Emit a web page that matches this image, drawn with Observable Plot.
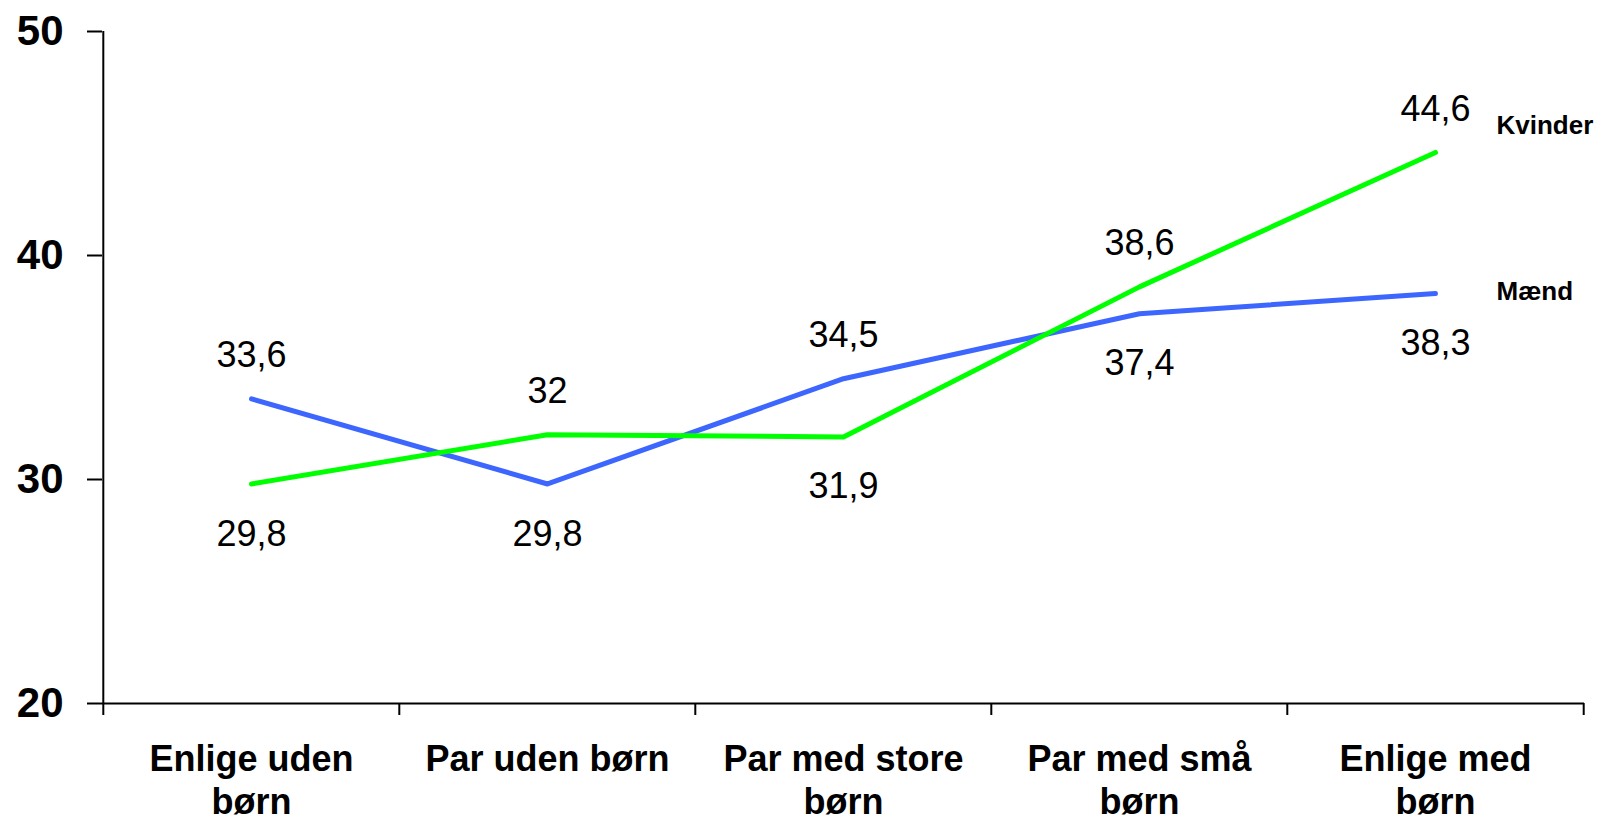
<!DOCTYPE html>
<html><head><meta charset="utf-8">
<script src="https://cdn.jsdelivr.net/npm/d3@7"></script>
<script src="https://cdn.jsdelivr.net/npm/@observablehq/plot@0.6"></script>
<style>html,body{margin:0;padding:0;background:#fff} svg{display:block}</style>
</head><body><div id="chart"></div>
<script>
const categories = ["Enlige uden børn", "Par uden børn", "Par med store børn", "Par med små børn", "Enlige med børn"];
const tickLabels = ["Enlige uden\nbørn", "Par uden børn", "Par med store\nbørn", "Par med små\nbørn", "Enlige med\nbørn"];
const maend = [33.6, 29.8, 34.5, 37.4, 38.3];
const kvinder = [29.8, 32, 31.9, 38.6, 44.6];
const seriesNames = ["Mænd", "Kvinder"];
const seriesColors = ["#3D66FF", "#00FF00"];
const yTicks = [20, 30, 40, 50];

const W = 1598, H = 817, ML = 102, MR = 14, MT = 31, MB = 114;
const bw = (W - ML - MR) / categories.length;
const fmt = v => String(v).replace(".", ",");

const rows = [];
categories.forEach((c, i) => {
  rows.push({cat: c, series: "Mænd", value: maend[i], other: kvinder[i]});
  rows.push({cat: c, series: "Kvinder", value: kvinder[i], other: maend[i]});
});
const above = rows.filter(d => d.value >= d.other);
const below = rows.filter(d => d.value < d.other);
const last = categories[categories.length - 1];
const endK = rows.filter(d => d.cat === last && d.series === "Kvinder");
const endM = rows.filter(d => d.cat === last && d.series === "Mænd");
const tickDrop = 12 / ((H - MT - MB) / (yTicks[yTicks.length - 1] - yTicks[0]));

const chart = Plot.plot({
  width: W, height: H,
  marginLeft: ML, marginRight: MR, marginTop: MT, marginBottom: MB,
  style: {fontFamily: "'Liberation Sans', Arial, sans-serif", background: "#fff", color: "#000"},
  x: {type: "band", domain: categories, padding: 0},
  y: {domain: [yTicks[0], yTicks[yTicks.length - 1]]},
  color: {domain: seriesNames, range: seriesColors},
  marks: [
    Plot.axisY({ticks: yTicks, tickSize: 15, tickPadding: 24, fontSize: 42, fontWeight: "bold", strokeWidth: 2, label: null}),
    Plot.axisX({tickSize: 0, tickPadding: 37, tickFormat: d => tickLabels[categories.indexOf(d)], fontSize: 36, fontWeight: "bold", lineHeight: 1.2, label: null}),
    Plot.ruleY([yTicks[0]], {stroke: "#000", strokeWidth: 2}),
    Plot.ruleX([categories[0]], {y1: yTicks[0], y2: yTicks[yTicks.length - 1], dx: -bw / 2, stroke: "#000", strokeWidth: 2}),
    Plot.ruleX(categories, {y1: yTicks[0], y2: yTicks[0] - tickDrop, dx: -bw / 2, stroke: "#000", strokeWidth: 2}),
    Plot.ruleX([last], {y1: yTicks[0], y2: yTicks[0] - tickDrop, dx: bw / 2, stroke: "#000", strokeWidth: 2}),
    Plot.line(rows, {x: "cat", y: "value", z: "series", stroke: "series", strokeWidth: 5, strokeLinejoin: "round", strokeLinecap: "round"}),
    Plot.text(above, {x: "cat", y: "value", text: d => fmt(d.value), dy: -43, fontSize: 36, fill: "#000"}),
    Plot.text(below, {x: "cat", y: "value", text: d => fmt(d.value), dy: 50, fontSize: 36, fill: "#000"}),
    Plot.text(endK, {x: "cat", y: "value", text: "series", dx: 61, dy: -27, textAnchor: "start", fontSize: 26, fontWeight: "bold", fill: "#000"}),
    Plot.text(endM, {x: "cat", y: "value", text: "series", dx: 61, dy: -2, textAnchor: "start", fontSize: 26, fontWeight: "bold", fill: "#000"})
  ]
});
document.getElementById("chart").appendChild(chart);
</script>
</body></html>
